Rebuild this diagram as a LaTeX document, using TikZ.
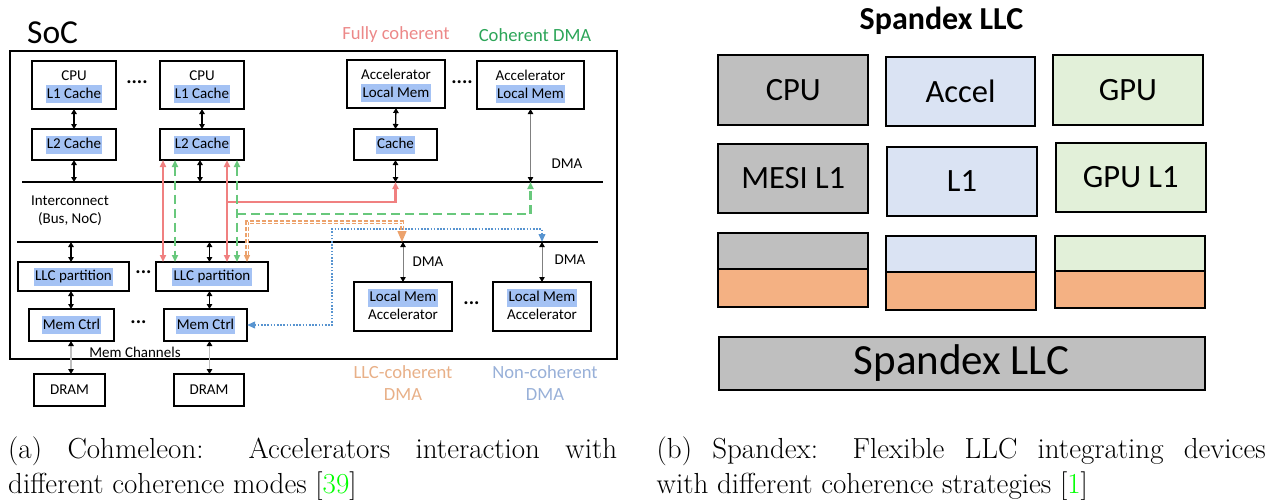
\documentclass[tikz,border=0pt]{standalone}
\usepackage{fontspec}
\newfontfamily\calibri{Carlito}
\usetikzlibrary{arrows.meta}

\definecolor{hlblue}{RGB}{164,194,244}
\definecolor{fcred}{RGB}{240,128,128}
\definecolor{fclabel}{RGB}{236,136,136}
\definecolor{cdgreen}{RGB}{104,200,124}
\definecolor{cdlabel}{RGB}{44,165,88}
\definecolor{llcor}{RGB}{236,162,108}
\definecolor{llclabel}{RGB}{232,176,136}
\definecolor{ncblue}{RGB}{88,148,208}
\definecolor{nclabel}{RGB}{152,176,216}
\definecolor{sgray}{RGB}{191,191,191}
\definecolor{sblue}{RGB}{218,227,243}
\definecolor{sgreen}{RGB}{226,240,217}
\definecolor{sorange}{RGB}{244,177,131}
\definecolor{citegreen}{RGB}{0,255,0}

\newcommand{\smf}{\calibri\fontsize{15}{18}\selectfont}
\newcommand{\legf}{\calibri\fontsize{18.6}{22}\selectfont}
\newcommand{\bigf}{\calibri\fontsize{32.5}{39}\selectfont}
% every line of a box gets the same strut, so two-line boxes stay balanced
\newcommand{\boxline}[1]{\rule[-4.8pt]{0pt}{18pt}#1}
\newcommand{\hlt}[1]{{\setlength{\fboxsep}{1.2pt}\colorbox{hlblue}{\rule[-3.6pt]{0pt}{15.6pt}#1}}}

\tikzset{
  box/.style={draw, line width=1.8pt, inner sep=0pt, outer sep=0pt, align=center, font=\smf},
  sbox/.style={draw, line width=2pt, inner sep=0pt, outer sep=0pt, font=\bigf},
  lbl/.style={inner sep=0pt, outer sep=0pt, align=center, font=\smf},
  dotsym/.style={inner sep=0pt, font=\calibri\bfseries\fontsize{20}{20}\selectfont},
  bus/.style={line width=1.8pt},
  dbl/.style={line width=1.3pt, {Triangle[length=5pt,width=5.5pt]}-{Triangle[length=5pt,width=5.5pt]}},
  dmaarr/.style={draw=gray, line width=0.8pt, {Triangle[length=5pt,width=5.5pt,color=black]}-{Triangle[length=5pt,width=5.5pt,color=black]}},
  chan/.style={draw=black!25, line width=1.8pt, {Triangle[length=5pt,width=5.5pt,color=black]}-{Triangle[length=5pt,width=5.5pt,color=black]}},
  redln/.style={draw=fcred, line width=2.2pt},
  grnln/.style={draw=cdgreen, line width=2.3pt, dash pattern=on 9pt off 5pt},
  orln/.style={draw=llcor, line width=1.3pt, double=white, double distance=0.9pt, dash pattern=on 4pt off 2pt},
  bluln/.style={draw=ncblue, line width=2.2pt, dash pattern=on 1.6pt off 1.6pt},
  captxt/.style={anchor=north west, inner sep=0pt, text width=609pt, align=justify, font=\fontsize{29}{35}\selectfont},
}

\begin{document}
\begin{tikzpicture}[x=1pt,y=-1pt]
\useasboundingbox (0,0) rectangle (1270,499);

% ---------------- (a) Cohmeleon SoC ----------------
\node[box, minimum width=607, minimum height=308] (soc) at (313.5,205) {};
\node[anchor=base west, inner sep=0pt, font=\calibri\fontsize{33.5}{40}\selectfont] (soclbl) at (27,43) {SoC};
\node[font=\legf, text=fclabel, inner sep=0pt] (lgfc) at (396,35) {Fully coherent};
\node[font=\legf, text=cdlabel, inner sep=0pt] (lgcd) at (535,35) {Coherent DMA};

% processors and their caches
\node[box, minimum width=84, minimum height=48] (cpuA) at (74,85) {\boxline{CPU}\\\hlt{L1 Cache}};
\node[box, minimum width=84, minimum height=48] (cpuB) at (202,85) {\boxline{CPU}\\\hlt{L1 Cache}};
\node[dotsym] (dotsCpu) at (137,82) {....};
\node[box, minimum width=84, minimum height=31] (l2A) at (74,144.5) {\hlt{L2 Cache}};
\node[box, minimum width=84, minimum height=31] (l2B) at (202,144.5) {\hlt{L2 Cache}};

% accelerators with private caches / local memories
\node[box, minimum width=98, minimum height=48] (accA) at (396,84) {\boxline{Accelerator}\\\hlt{Local Mem}};
\node[box, minimum width=107, minimum height=48] (accB) at (530.5,85) {\boxline{Accelerator}\\\hlt{Local Mem}};
\node[dotsym] (dotsAcc) at (462,82) {....};
\node[box, minimum width=83, minimum height=31] (cache) at (395.5,144.5) {\hlt{Cache}};

% interconnect
\coordinate (busUL) at (22,182);
\coordinate (busUR) at (603,182);
\coordinate (busLL) at (17,242);
\coordinate (busLR) at (598,242);
\draw[bus] (busUL) -- (busUR);
\draw[bus] (busLL) -- (busLR);
\node[lbl] (icn) at (70,211) {Interconnect\\(Bus, NoC)};
\node[lbl] (dmaU) at (567,164) {DMA};

% LLC, memory controllers, DRAM
\node[box, minimum width=111, minimum height=29] (llcA) at (73.5,276.5) {\hlt{LLC partition}};
\node[box, minimum width=112, minimum height=29] (llcB) at (212,276.5) {\hlt{LLC partition}};
\node[dotsym] (dotsLlc) at (143.5,272) {...};
\node[box, minimum width=85, minimum height=32] (memA) at (71.5,325) {\hlt{Mem Ctrl}};
\node[box, minimum width=83, minimum height=32] (memB) at (205.5,325) {\hlt{Mem Ctrl}};
\node[dotsym] (dotsMem) at (138.5,322) {...};
\node[lbl] (chans) at (135,352) {Mem Channels};
\node[box, minimum width=71, minimum height=32] (dramA) at (69.5,390) {\boxline{DRAM}};
\node[box, minimum width=70, minimum height=32] (dramB) at (209,390) {\boxline{DRAM}};

% DMA accelerators
\node[box, minimum width=98, minimum height=49] (laA) at (403,306.5) {\hlt{Local Mem}\\\boxline{Accelerator}};
\node[box, minimum width=98, minimum height=49] (laB) at (542,306.5) {\hlt{Local Mem}\\\boxline{Accelerator}};
\node[dotsym] (dotsLa) at (471.5,303) {...};
\node[lbl] (dmaA) at (428,262) {DMA};
\node[lbl] (dmaB) at (570,260) {DMA};

\node[font=\legf, text=llclabel, align=center, inner sep=0pt] (lgllc) at (403,383) {LLC-coherent\\DMA};
\node[font=\legf, text=nclabel, align=center, inner sep=0pt] (lgnc) at (545,383) {Non-coherent\\DMA};

% columns used by the vertical links
\coordinate (colA) at (71,0);
\coordinate (colB) at (209.5,0);
\coordinate (xR1) at (163,0);
\coordinate (xG1) at (175,0);
\coordinate (xR2) at (227,0);
\coordinate (xG2) at (237,0);
\coordinate (xO) at (247,0);
\coordinate (xB) at (332,0);
\coordinate (yR) at (0,202);
\coordinate (yG) at (0,214);
\coordinate (yO) at (0,222);
\coordinate (yB) at (0,229);

% black links
\draw[dbl] (cpuA.south) -- (l2A.north);
\draw[dbl] (cpuB.south) -- (l2B.north);
\draw[dbl] (accA.south) -- (cache.north);
\draw[dbl] (l2A.south) -- (l2A.south |- busUL);
\draw[dbl] ([xshift=-2pt]l2B.south) -- ([xshift=-2pt]l2B.south |- busUL);
\draw[dbl] (cache.south) -- (cache.south |- busUL);
\draw[dmaarr] (accB.south) -- (accB.south |- busUL);
\draw[dbl] (colA |- busLL) -- (colA |- llcA.north);
\draw[dbl] (colB |- busLL) -- (colB |- llcB.north);
\draw[dbl] (colA |- llcA.south) -- (colA |- memA.north);
\draw[dbl] (colB |- llcB.south) -- (colB |- memB.north);
\draw[chan] (colA |- memA.south) -- (colA |- dramA.north);
\draw[chan] (colB |- memB.south) -- (colB |- dramB.north);
\draw[dmaarr] (laA.north |- busLL) -- (laA.north);
\draw[dmaarr] (laB.north |- busLL) -- (laB.north);

% fully coherent
\draw[redln, {Triangle[length=7pt,width=6pt]}-{Triangle[length=7pt,width=6pt]}] (xR1 |- l2B.south) -- (xR1 |- llcB.north);
\draw[redln, {Triangle[length=7pt,width=6pt]}-{Triangle[length=7pt,width=6pt]}] (xR2 |- l2B.south) -- (xR2 |- llcB.north);
\draw[redln, -{Triangle[length=7pt,width=6pt]}] (xR2 |- yR) -- (cache.south |- yR) -- (cache.south |- busUL);

% coherent DMA
\draw[grnln, {Triangle[length=7pt,width=6pt]}-{Triangle[length=7pt,width=6pt]}] (xG1 |- l2B.south) -- (xG1 |- llcB.north);
\draw[grnln, {Triangle[length=7pt,width=6pt]}-{Triangle[length=7pt,width=6pt]}] (xG2 |- l2B.south) -- (xG2 |- llcB.north);
\draw[grnln, -{Triangle[length=7pt,width=6pt]}] (xG2 |- yG) -- (accB.south |- yG) -- (accB.south |- busUL);

% LLC-coherent DMA
\draw[orln, {Triangle[length=7pt,width=6pt]}-{Triangle[length=11pt,width=9pt]}] (xO |- llcB.north) -- (xO |- yO) -- ([xshift=-1pt]laA.north |- yO) -- ([xshift=-1pt]laA.north |- busLL);

% non-coherent DMA
\draw[bluln, {Triangle[length=8pt,width=6.5pt]}-{Triangle[length=8pt,width=6.5pt]}] (memB.east) -- (xB |- memB.east) -- (xB |- yB) -- (laB.north |- yB) -- (laB.north |- busLL);

\node[captxt] (capA) at (8,436.5) {(a) Cohmeleon: Accelerators interaction with\linebreak different coherence modes [\textcolor{citegreen}{39}]};

% ---------------- (b) Spandex LLC ----------------
\node[anchor=base, inner sep=0pt, font=\calibri\bfseries\fontsize{32}{38}\selectfont] (sptitle) at (941.5,29) {Spandex LLC};

\node[sbox, fill=sgray, minimum width=150, minimum height=70] (cpu) at (793.25,90) {CPU};
\node[sbox, fill=sblue, minimum width=149, minimum height=69] (acc) at (960.5,91.5) {Accel};
\node[sbox, fill=sgreen, minimum width=150, minimum height=70] (gpu) at (1128,90) {GPU};

\node[sbox, fill=sgray, minimum width=150, minimum height=69] (mesi) at (793.25,178.5) {MESI L1};
\node[sbox, fill=sblue, minimum width=150, minimum height=69] (lone) at (962,181.5) {L1};
\node[sbox, fill=sgreen, minimum width=150, minimum height=69] (gpul) at (1130.75,177.5) {GPU L1};

\node[sbox, fill=sgray, minimum width=150, minimum height=36] (cpuS) at (793.25,251.2) {};
\node[sbox, fill=sorange, minimum width=150, minimum height=37.5] (cpuO) at (793.25,288) {};
\node[sbox, fill=sblue, minimum width=150, minimum height=36] (accS) at (960.75,254) {};
\node[sbox, fill=sorange, minimum width=150, minimum height=38] (accO) at (960.75,291) {};
\node[sbox, fill=sgreen, minimum width=150, minimum height=34.7] (gpuS) at (1129.5,253.3) {};
\node[sbox, fill=sorange, minimum width=150, minimum height=37.3] (gpuO) at (1129.5,289.3) {};

\node[sbox, fill=sgray, minimum width=486, minimum height=53, font=\calibri\fontsize{43}{50}\selectfont] (spllc) at (961.6,363.5) {Spandex LLC};

\node[captxt] (capB) at (656.5,436.5) {(b) Spandex: Flexible LLC integrating devices\linebreak with different coherence strategies [\textcolor{citegreen}{1}]};

\end{tikzpicture}
\end{document}
